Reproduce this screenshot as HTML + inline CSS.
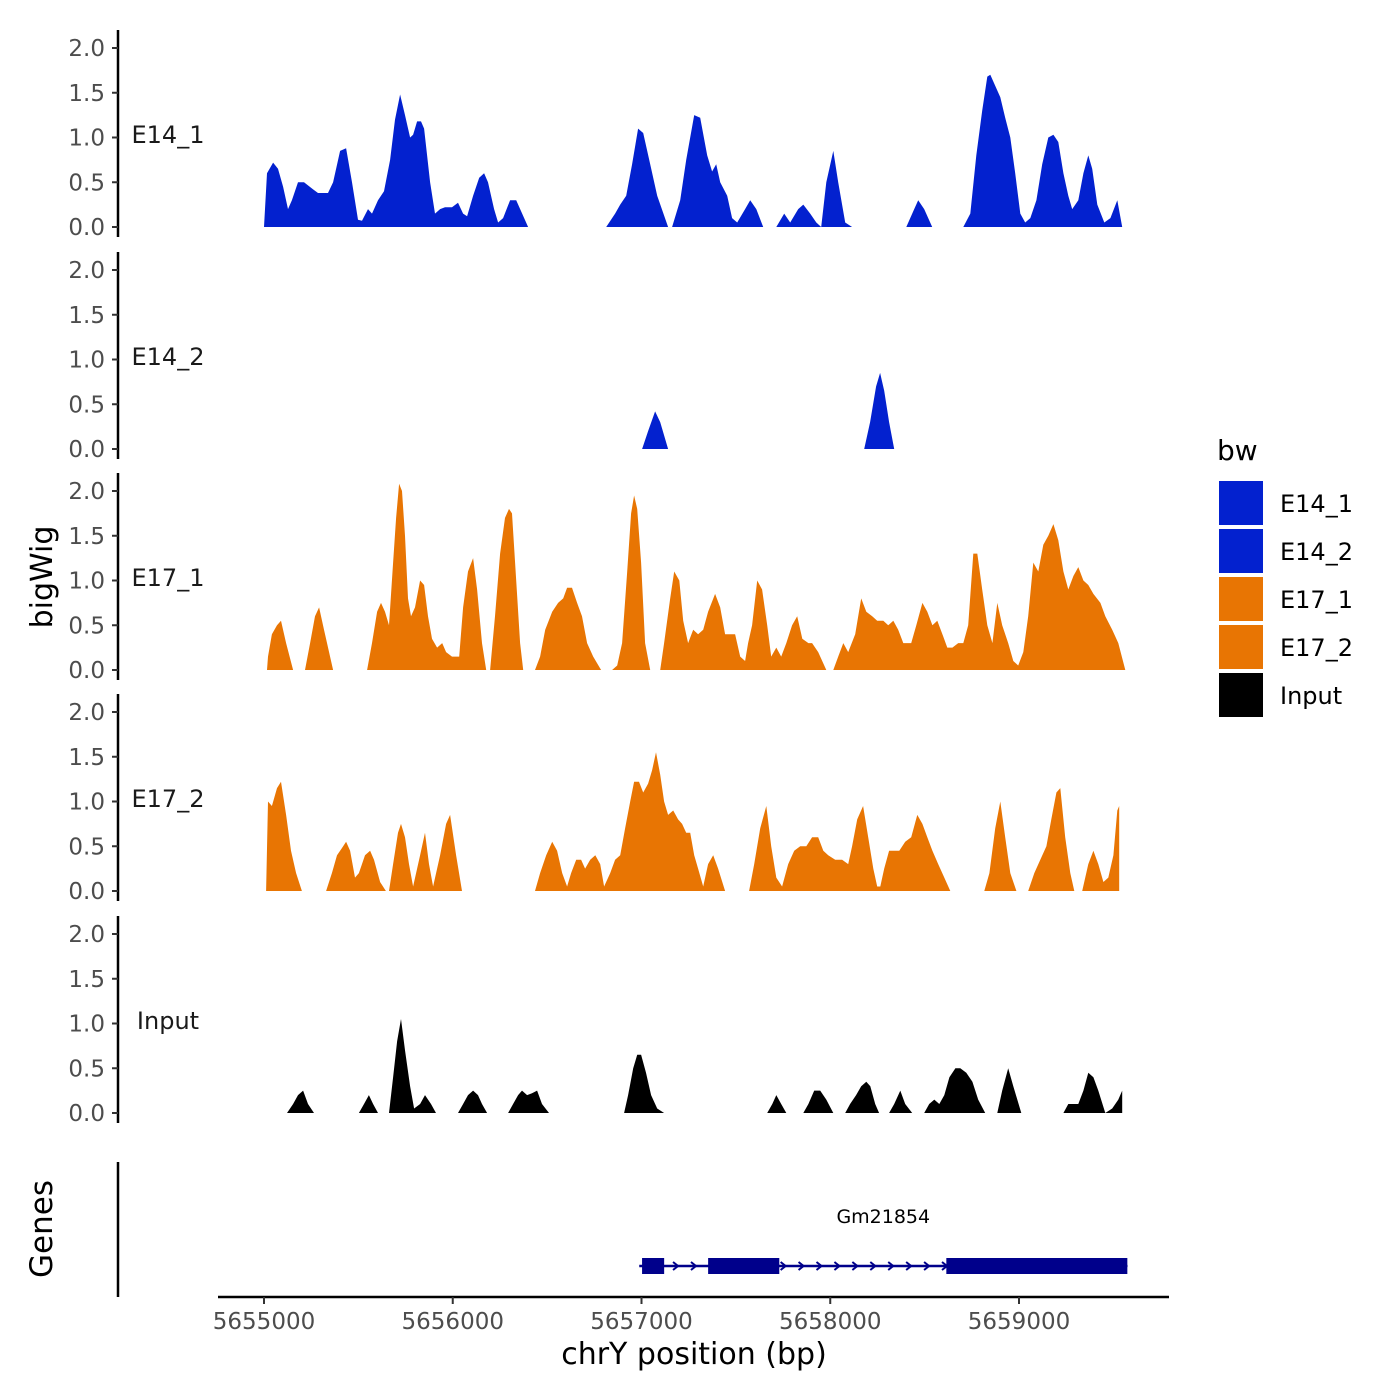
<!DOCTYPE html>
<html><head><meta charset="utf-8"><style>
html,body{margin:0;padding:0;background:#fff;}
svg{display:block;font-family:"DejaVu Sans","Liberation Sans",sans-serif;}
</style></head><body>
<svg id="chart" width="1400" height="1400" viewBox="0 0 1400 1400">
<text x="52" y="577" transform="rotate(-90 52 577)" text-anchor="middle" font-size="30" fill="#000">bigWig</text>
<text x="52" y="1229" transform="rotate(-90 52 1229)" text-anchor="middle" font-size="31" fill="#000">Genes</text>
<text x="694" y="1364" text-anchor="middle" font-size="30" fill="#000">chrY position (bp)</text>
<g id="tracks"></g>
<g id="genes"></g>
<g id="legend">
<text x="1217" y="460" font-size="28" fill="#000">bw</text>
</g>
</svg>
<script>
// Data (genomic positions in bp; null = gap)
const trackNames = ["E14_1","E14_2","E17_1","E17_2","Input"];
const trackColors = ["#0321cf","#0321cf","#e87503","#e87503","#000000"];
const yTicks = [0,0.5,1,1.5,2];
const yTickLabels = ["0.0","0.5","1.0","1.5","2.0"];
const xTicks = [5655000,5656000,5657000,5658000,5659000];

const e141Off = [0,16,48,74,101,127,148,180,212,260,286,339,366,403,435,466,498,519,551,572,604,636,668,694,721,747,774,790,811,832,848,880,906,933,959,996,1028,1055,1076,1108,1140,1166,1187,1219,1240,1267,1304,1336,1399,null,
1813,1860,1887,1919,1950,1982,2009,2046,2083,2141,2162,2205,2237,2279,2311,2348,2374,2396,2417,2454,2480,2507,2549,2576,2608,2645,null,
2714,2756,2788,2830,2857,2894,2926,2952,2979,3016,3042,3079,3116,null,3403,3445,3466,3498,3540,null,
3705,3742,3774,3805,3832,3848,3869,3901,3927,3954,3980,4007,4033,4060,4092,4123,4155,4182,4208,4235,4261,4282,4314,4341,4367,4388,4415,4452,4484,4521,4547];
const e141Val = [0,0.6,0.72,0.65,0.45,0.2,0.3,0.5,0.5,0.42,0.38,0.38,0.5,0.85,0.88,0.5,0.08,0.07,0.2,0.15,0.3,0.4,0.75,1.2,1.48,1.25,1.0,1.03,1.18,1.18,1.1,0.5,0.15,0.2,0.22,0.22,0.27,0.15,0.12,0.35,0.55,0.6,0.5,0.2,0.05,0.1,0.3,0.3,0,null,
0,0.15,0.25,0.35,0.7,1.1,1.05,0.7,0.35,0,0,0.3,0.75,1.25,1.22,0.8,0.62,0.7,0.5,0.35,0.1,0.05,0.2,0.3,0.2,0,null,
0,0.15,0.05,0.2,0.25,0.15,0.05,0,0.5,0.85,0.5,0.05,0,null,0,0.2,0.3,0.2,0,null,
0,0.15,0.8,1.3,1.68,1.7,1.6,1.45,1.22,1.0,0.6,0.15,0.05,0.1,0.3,0.7,1.0,1.03,0.95,0.6,0.35,0.2,0.3,0.6,0.8,0.65,0.25,0.05,0.1,0.3,0];

const e142Off = [2003,2035,2072,2099,2141,null,3180,3211,3243,3264,3286,3312,3339];
const e142Val = [0,0.2,0.42,0.3,0,null,0,0.3,0.7,0.85,0.65,0.3,0];

const e171Off = [16,21,42,69,90,117,154,null,217,244,270,292,318,366,null,
546,572,599,620,641,662,684,700,716,731,747,763,779,800,827,848,869,890,917,944,965,996,1034,1055,1081,1108,1129,1155,1177,null,
1198,1224,1251,1277,1298,1314,1336,1357,1373,null,
1436,1463,1490,1527,1558,1585,1606,1632,1659,1685,1712,1744,1786,null,
1844,1871,1897,1924,1945,1961,1977,1998,2019,2046,null,
2099,2120,2152,2173,2200,2221,2247,2274,2300,2327,2353,2390,2417,2443,2470,2496,2523,2549,2565,2586,2613,2639,2666,2687,2714,2740,2767,2798,2825,2852,2884,2904,2936,2979,null,
3016,3042,3069,3095,3132,3164,3191,3222,3249,3281,3307,3334,3360,3387,3429,3456,3488,3514,3541,3567,3594,3620,3647,3678,3705,3731,3758,3779,3805,3832,3859,3885,3911,3943,3970,3996,4023,4049,4076,4102,4129,4155,4182,4208,4235,4261,4288,4314,4341,4367,4394,4431,4457,4494,4526,4563];
const e171Val = [0,0.15,0.4,0.5,0.55,0.3,0,null,0,0.3,0.6,0.7,0.45,0,null,
0,0.3,0.65,0.75,0.65,0.5,1.2,1.7,2.08,2.0,1.5,0.8,0.6,0.7,1.0,0.95,0.6,0.35,0.25,0.3,0.2,0.15,0.15,0.7,1.1,1.25,0.9,0.3,0,null,
0,0.6,1.3,1.7,1.8,1.75,1.0,0.3,0,null,
0,0.15,0.45,0.65,0.75,0.8,0.92,0.92,0.75,0.6,0.3,0.15,0,null,
0,0.05,0.3,1.1,1.75,1.95,1.8,1.2,0.3,0,null,
0,0.3,0.8,1.1,1.0,0.55,0.3,0.45,0.4,0.45,0.65,0.85,0.7,0.4,0.4,0.4,0.15,0.1,0.3,0.5,1.0,0.9,0.5,0.15,0.25,0.15,0.3,0.5,0.6,0.35,0.3,0.3,0.2,0,null,
0,0.15,0.3,0.2,0.4,0.8,0.65,0.6,0.55,0.55,0.5,0.55,0.45,0.3,0.3,0.5,0.75,0.65,0.5,0.55,0.4,0.25,0.25,0.3,0.3,0.5,1.3,1.3,0.9,0.5,0.3,0.75,0.5,0.3,0.1,0.05,0.2,0.6,1.2,1.1,1.4,1.5,1.63,1.45,1.1,0.9,1.05,1.15,1.0,0.95,0.85,0.75,0.6,0.45,0.3,0];

const e172Off = [11,21,42,69,90,117,143,170,201,null,
329,360,387,413,435,456,482,503,535,562,583,615,646,null,
662,684,710,726,747,768,790,827,853,874,896,933,965,986,1018,1049,null,
1436,1463,1495,1527,1553,1580,1606,1627,1654,1680,1701,1728,1755,1781,1802,1834,1860,1887,1913,1940,1961,1987,2009,2035,2056,2077,2099,2120,2141,2168,2194,2215,2237,2258,2279,2300,2327,2353,2380,2406,2443,null,
2570,2597,2629,2661,2687,2714,2745,2777,2809,2841,2873,2904,2936,2963,2989,3026,3063,3095,3116,3143,3174,3201,3228,3249,3265,3286,3312,3339,3366,3397,3429,3461,3488,3514,3541,3572,3604,3636,null,
3816,3843,3874,3901,3927,3954,3986,null,4049,4081,4113,4145,4171,4198,4219,4245,4272,4293,null,
4335,4367,4394,4420,4447,4473,4500,4521,4531,4531];
const e172Val = [0,1.0,0.95,1.15,1.22,0.85,0.45,0.2,0,null,
0,0.2,0.4,0.48,0.55,0.45,0.15,0.2,0.4,0.45,0.35,0.1,0,null,
0,0.3,0.65,0.75,0.6,0.3,0.05,0.4,0.65,0.3,0.05,0.4,0.75,0.85,0.4,0,null,
0,0.2,0.4,0.55,0.45,0.2,0.05,0.2,0.35,0.35,0.25,0.35,0.4,0.3,0.05,0.2,0.35,0.4,0.7,1.0,1.22,1.22,1.1,1.2,1.35,1.55,1.3,1.0,0.85,0.9,0.8,0.75,0.65,0.65,0.4,0.25,0.05,0.3,0.4,0.25,0,null,
0,0.3,0.7,0.95,0.5,0.15,0.05,0.3,0.45,0.5,0.5,0.6,0.6,0.45,0.4,0.35,0.35,0.3,0.5,0.8,0.95,0.6,0.25,0.05,0.05,0.25,0.45,0.45,0.45,0.55,0.6,0.85,0.75,0.6,0.45,0.3,0.15,0,null,
0,0.2,0.7,1.0,0.6,0.2,0,null,0,0.2,0.35,0.5,0.8,1.1,1.15,0.6,0.2,0,null,
0,0.3,0.45,0.3,0.1,0.15,0.4,0.9,0.95,0];

const inputOff = [122,154,180,207,233,265,null,503,530,556,578,604,null,
662,684,705,726,747,774,795,827,853,885,911,null,1028,1055,1081,1108,1134,1155,1182,null,
1293,1320,1346,1367,1394,1420,1447,1473,1510,null,1908,1929,1956,1977,1998,2024,2051,2083,2120,null,
2666,2693,2714,2740,2767,null,2857,2884,2915,2947,2979,3016,null,3079,3105,3137,3164,3191,3212,3238,3259,null,
3312,3339,3371,3397,3434,null,3498,3524,3551,3578,3604,3631,3663,3689,3721,3753,3784,3821,null,
3885,3911,3943,3970,4012,null,4235,4261,4293,4314,4341,4367,4394,4420,4457,4494,4526,4547,4547];
const inputVal = [0,0.1,0.2,0.25,0.1,0,null,0,0.1,0.2,0.1,0,null,
0,0.4,0.8,1.05,0.7,0.3,0.05,0.1,0.2,0.1,0,null,0,0.1,0.2,0.25,0.2,0.1,0,null,
0,0.1,0.2,0.25,0.2,0.22,0.25,0.1,0,null,0,0.2,0.5,0.65,0.65,0.45,0.2,0.05,0,null,
0,0.1,0.2,0.1,0,null,0,0.1,0.25,0.25,0.15,0,null,0,0.1,0.2,0.3,0.35,0.3,0.1,0,null,
0,0.1,0.25,0.1,0,null,0,0.1,0.15,0.1,0.2,0.4,0.5,0.5,0.45,0.35,0.15,0,null,
0,0.25,0.5,0.3,0,null,0,0.1,0.1,0.1,0.25,0.45,0.4,0.25,0,0.05,0.15,0.25,0];

const geneName = "Gm21854";
const geneStart = 5656988;
const geneEnd = 5659574;
const exonStarts = [5657003,5657353,5658615];
const exonEnds = [5657120,5657730,5659574];

const trackOffsets = [e141Off,e142Off,e171Off,e172Off,inputOff];
const trackValues = [e141Val,e142Val,e171Val,e172Val,inputVal];

// Scales
const BASE = 5655000;
function xScale(bp){ return 264 + (bp - 5655000) * 0.18875; }
const panelZero = [227,449,670,891,1113];
function yScale(i, v){ return panelZero[i] - v * 89.5; }

const NS = "http://www.w3.org/2000/svg";
function mk(tag, attrs, parent){ const e = document.createElementNS(NS, tag); for (const k in attrs) e.setAttribute(k, attrs[k]); parent.appendChild(e); return e; }

const tracksG = document.getElementById('tracks');
trackNames.forEach((name, i) => {
  const g = mk('g', {}, tracksG);
  
  
  const axis = mk('line', {x1:118, x2:118, y1:panelZero[i]+10, y2:panelZero[i]-197, stroke:'#000', 'stroke-width':2.5}, g);
  
  
  yTicks.forEach((t, k) => {
    const y = yScale(i, t);
    const tk = mk('line', {x1:112, x2:118, y1:y, y2:y, stroke:'#333', 'stroke-width':2}, g);
    
    
    const tl = mk('text', {x:105, y:y+8, 'text-anchor':'end', 'font-size':23, fill:'#4d4d4d'}, g);
    tl.textContent = yTickLabels[k];
    
    
  });
  const lab = mk('text', {x:168, y:panelZero[i]-84, 'text-anchor':'middle', 'font-size':24, fill:'#1a1a1a'}, g);
  lab.textContent = name;
  
  
  const offs = trackOffsets[i], vals = trackValues[i];
  let d = '', seg = [];
  const flush = () => {
    if (seg.length) {
      d += 'M' + seg[0][0] + ',' + panelZero[i];
      seg.forEach(p => { d += 'L' + p[0].toFixed(1) + ',' + p[1].toFixed(1); });
      d += 'L' + seg[seg.length-1][0].toFixed(1) + ',' + panelZero[i] + 'Z';
    }
    seg = [];
  };
  for (let j = 0; j < offs.length; j++) {
    if (offs[j] === null) { flush(); continue; }
    seg.push([xScale(BASE + offs[j]), yScale(i, vals[j])]);
  }
  flush();
  const area = mk('path', {d:d, fill:trackColors[i]}, g);
  
  
});

// Genes panel
const genesG = document.getElementById('genes');
const gAxis = mk('line', {x1:118, x2:118, y1:1162, y2:1297, stroke:'#000', 'stroke-width':2.5}, genesG);


const xAxis = mk('line', {x1:218, x2:1169, y1:1297, y2:1297, stroke:'#000', 'stroke-width':2.5}, genesG);


xTicks.forEach(t => {
  const x = xScale(t);
  const tk = mk('line', {x1:x, x2:x, y1:1297, y2:1304, stroke:'#333', 'stroke-width':2}, genesG);
  
  
  const tl = mk('text', {x:x, y:1329, 'text-anchor':'middle', 'font-size':23, fill:'#4d4d4d'}, genesG);
  tl.textContent = String(t);
  
  
});
const gy = 1266;
const intron = mk('line', {x1:xScale(geneStart), x2:xScale(geneEnd), y1:gy, y2:gy, stroke:'#00008b', 'stroke-width':2.5}, genesG);


for (let a = geneStart + 100; a < geneEnd; a += 95) {
  const x = xScale(a);
  const ar = mk('path', {d:'M'+(x-3)+','+(gy-4)+'L'+(x+2)+','+gy+'L'+(x-3)+','+(gy+4), fill:'none', stroke:'#00008b', 'stroke-width':2}, genesG);
  
  
}
exonStarts.forEach((s, k) => {
  const r = mk('rect', {x:xScale(s), y:gy-8, width:xScale(exonEnds[k])-xScale(s), height:16, fill:'#00008b'}, genesG);
  
  
});
const gl = mk('text', {x:(xScale(geneStart)+xScale(geneEnd))/2, y:1223, 'text-anchor':'middle', 'font-size':19, fill:'#000'}, genesG);
gl.textContent = geneName;



// Legend
const legendG = document.getElementById('legend');
trackNames.forEach((name, i) => {
  const y = 481 + i * 48;
  const g = mk('g', {}, legendG);
  
  
  const r = mk('rect', {x:1219, y:y, width:44, height:44, fill:trackColors[i]}, g);
  
  
  const t = mk('text', {x:1280, y:y+31, 'font-size':24, fill:'#000'}, g);
  t.textContent = name;
  
  
});
</script>
</body></html>
